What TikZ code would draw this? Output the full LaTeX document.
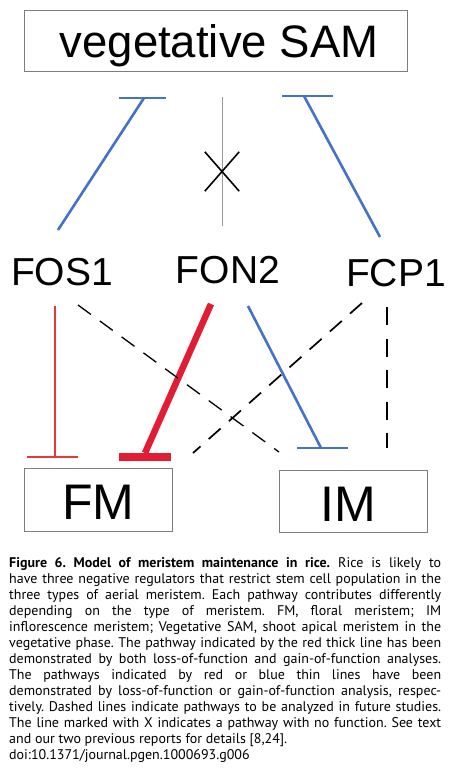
\documentclass[tikz,border=0pt]{standalone}
\usepackage{fontspec}
\setmainfont{Liberation Sans}
\newfontfamily\capfont{PT Sans}
\definecolor{pblue}{RGB}{68,114,196}
\definecolor{pred}{RGB}{224,58,58}
\definecolor{pthick}{RGB}{226,28,50}
\definecolor{pbox}{RGB}{125,125,125}
\newcommand{\capline}[1]{\makebox[432pt][s]{#1}\\}
\begin{document}
\begin{tikzpicture}[x=1pt,y=-1pt,
  box/.style={draw=pbox, line width=0.9pt, inner sep=0pt},
  boxtext/.style={anchor=base, inner sep=0pt, font=\fontsize{50}{50}\selectfont},
  lbl/.style={anchor=base, inner sep=0pt, font=\fontsize{39}{39}\selectfont},
  inh/.style={draw=pblue, line width=2.6pt},
  thinred/.style={draw=pred, line width=2.2pt},
  thickred/.style={draw=pthick, line width=6.5pt},
  fut/.style={draw=black, line width=1.3pt, dash pattern=on 16pt off 11pt},
  futv/.style={draw=black, line width=1.2pt, dash pattern=on 18pt off 13.5pt},
  nofun/.style={draw=gray!80, line width=0.9pt},
  xstroke/.style={draw=black, line width=1.6pt}]
\fill[white] (0,0) rectangle (453,778);
\useasboundingbox (0,0) rectangle (453,778);

% boxes
\node[box, minimum width=383pt, minimum height=61pt] (sam) at (215.5,40.5) {};
\node[anchor=base, inner sep=0pt, font=\fontsize{45.5}{46}\selectfont] (samtext) at (219,58) {vegetative SAM};
\node[box, minimum width=148pt, minimum height=63pt] (fm) at (98,499.5) {};
\node[boxtext] (fmtext) at (98.5,519) {FM};
\node[box, minimum width=148pt, minimum height=62pt] (im) at (353,501) {};
\node[boxtext] (imtext) at (348.5,521) {IM};

% regulators
\node[lbl] (fos1) at (62,285) {FOS1};
\node[lbl] (fon2) at (228,283) {FON2};
\node[lbl] (fcp1) at (396,286) {FCP1};

% end points
\coordinate (fos1up) at (58,230);
\coordinate (fos1sam) at (144,98);
\coordinate (fon2up) at (222,226);
\coordinate (fon2sam) at (222,97);
\coordinate (fcp1up) at (380,237);
\coordinate (fcp1sam) at (304,96);
\coordinate (fos1dn) at (55,306);
\coordinate (fos1fm) at (55,457);
\coordinate (fon2dn) at (211,304);
\coordinate (fon2fm) at (145,453);
\coordinate (fon2bar) at (145,456.5);
\coordinate (fos1dn2) at (78,305);
\coordinate (fos1im) at (279,452);
\coordinate (fon2dn2) at (248,306);
\coordinate (fon2im) at (321,448);
\coordinate (fcp1dn) at (362,303);
\coordinate (fcp1fm) at (193,453);
\coordinate (fcp1dn2) at (387,307);
\coordinate (fcp1im) at (387,448);

% to vegetative SAM
\draw[inh] (fos1up) -- (fos1sam);
\draw[inh] ([xshift=-25pt]fos1sam) -- ([xshift=22pt]fos1sam);
\draw[nofun] (fon2up) -- (fon2sam);
\node[inner sep=0pt, minimum width=34pt, minimum height=39pt] (xm) at (222,171.5) {};
\draw[xstroke] (xm.north west) -- (xm.south east);
\draw[xstroke] (xm.north east) -- (xm.south west);
\draw[inh] (fcp1up) -- (fcp1sam);
\draw[inh] ([xshift=-22pt]fcp1sam) -- ([xshift=29pt]fcp1sam);

% to FM
\draw[thinred] (fos1dn) -- (fos1fm);
\draw[thinred] ([xshift=-28pt]fos1fm) -- ([xshift=23pt]fos1fm);
\draw[thickred] (fon2dn) -- (fon2fm);
\draw[draw=pthick, line width=8pt] ([xshift=-26pt]fon2bar) -- ([xshift=26pt]fon2bar);
\draw[fut, line width=1.7pt] (fcp1dn) -- (fcp1fm);

% to IM
\draw[fut] (fos1dn2) -- (fos1im);
\draw[inh] (fon2dn2) -- (fon2im);
\draw[inh] ([xshift=-24pt]fon2im) -- ([xshift=27pt]fon2im);
\draw[futv] (fcp1dn2) -- (fcp1im);

% caption
\node[anchor=base west, inner sep=0pt] (caption) at (9,567.7) {\parbox[t]{432pt}{\capfont\fontsize{14}{16}\selectfont\frenchspacing
\capline{\textbf{Figure 6. Model of meristem maintenance in rice.} Rice is likely to}
\capline{have three negative regulators that restrict stem cell population in the}
\capline{three types of aerial meristem. Each pathway contributes differently}
\capline{depending on the type of meristem. FM, floral meristem; IM}
\capline{inflorescence meristem; Vegetative SAM, shoot apical meristem in the}
\capline{vegetative phase. The pathway indicated by the red thick line has been}
\capline{demonstrated by both loss-of-function and gain-of-function analyses.}
\capline{The pathways indicated by red or blue thin lines have been}
\capline{demonstrated by loss-of-function or gain-of-function analysis, respec-}
\capline{tively. Dashed lines indicate pathways to be analyzed in future studies.}
\capline{The line marked with X indicates a pathway with no function. See text}
and our two previous reports for details [8,24].\\
doi:10.1371/journal.pgen.1000693.g006}};
\end{tikzpicture}
\end{document}
